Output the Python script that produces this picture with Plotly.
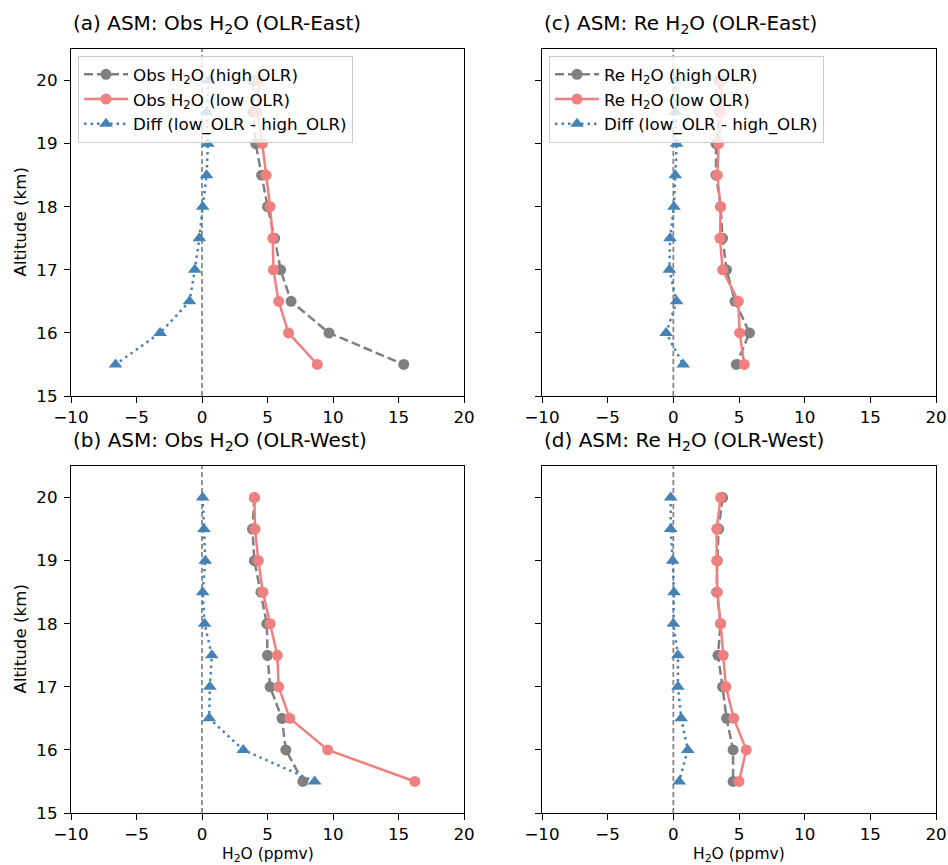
import plotly.graph_objects as go

# Altitude levels (km)
altitude = [20.0, 19.5, 19.0, 18.5, 18.0, 17.5, 17.0, 16.5, 16.0, 15.5]

# (a) Observed H2O, OLR-East (ppmv)
obs_east_high = [3.9, 3.9, 4.1, 4.55, 5.0, 5.55, 6.0, 6.8, 9.7, 15.4]
obs_east_low = [4.4, 4.2, 4.6, 4.9, 5.2, 5.4, 5.45, 5.85, 6.6, 8.8]
obs_east_diff = [0.5, 0.35, 0.45, 0.35, 0.05, -0.2, -0.55, -0.95, -3.2, -6.6]

# (b) Observed H2O, OLR-West (ppmv)
obs_west_high = [4.0, 3.85, 4.0, 4.5, 4.95, 5.0, 5.2, 6.1, 6.4, 7.7]
obs_west_low = [4.0, 4.05, 4.3, 4.65, 5.2, 5.75, 5.85, 6.7, 9.6, 16.25]
obs_west_diff = [0.05, 0.15, 0.25, 0.05, 0.2, 0.75, 0.6, 0.55, 3.15, 8.6]

# (c) Reconstructed H2O, OLR-East (ppmv)
re_east_high = [3.5, 3.5, 3.25, 3.25, 3.6, 3.75, 4.05, 4.7, 5.8, 4.8]
re_east_low = [3.7, 3.65, 3.45, 3.35, 3.6, 3.55, 3.75, 4.95, 5.05, 5.4]
re_east_diff = [0.15, 0.15, 0.25, 0.15, 0.05, -0.25, -0.3, 0.25, -0.55, 0.75]

# (d) Reconstructed H2O, OLR-West (ppmv)
re_west_high = [3.75, 3.45, 3.35, 3.3, 3.6, 3.4, 3.75, 4.05, 4.55, 4.55]
re_west_low = [3.6, 3.3, 3.3, 3.35, 3.6, 3.8, 4.0, 4.6, 5.55, 5.0]
re_west_diff = [-0.2, -0.2, -0.05, 0.05, 0.0, 0.35, 0.35, 0.6, 1.1, 0.45]

x_ticks = [-10, -5, 0, 5, 10, 15, 20]
y_ticks = [15, 16, 17, 18, 19, 20]

FONT = "DejaVu Sans"
GRAY = "#808080"
CORAL = "#F08080"
BLUE = "#4682B4"
W, H = 948, 865
FS = 16.7      # tick / label / legend font size (px)
FS_TITLE = 20  # panel title font size (px)

# panel boxes in pixels: (left, right, top, bottom)
boxes = {
    "a": (71, 464, 49, 396),
    "b": (71, 464, 466, 813),
    "c": (542, 936, 49, 396),
    "d": (542, 936, 466, 813),
}
axis_ids = {"a": ("x", "y"), "b": ("x2", "y2"), "c": ("x3", "y3"), "d": ("x4", "y4")}

panels = [
    ("a", "Obs", "(a) ASM: Obs H<sub>2</sub>O (OLR-East)", obs_east_high, obs_east_low, obs_east_diff, "legend"),
    ("b", "Obs", "(b) ASM: Obs H<sub>2</sub>O (OLR-West)", obs_west_high, obs_west_low, obs_west_diff, None),
    ("c", "Re", "(c) ASM: Re H<sub>2</sub>O (OLR-East)", re_east_high, re_east_low, re_east_diff, "legend2"),
    ("d", "Re", "(d) ASM: Re H<sub>2</sub>O (OLR-West)", re_west_high, re_west_low, re_west_diff, None),
]

fig = go.Figure()
annotations = []
shapes = []
layout_axes = {}

for key, kind, title, high, low, diff, leg in panels:
    xa, ya = axis_ids[key]
    show = leg is not None
    legname = leg if leg else "legend"
    common = dict(xaxis=xa, yaxis=ya, showlegend=show, legend=legname, y=altitude)
    fig.add_trace(go.Scatter(
        x=high, mode="lines+markers", name=f"{kind} H<sub>2</sub>O (high OLR)",
        line=dict(color=GRAY, width=2.5, dash="9px,4px"),
        marker=dict(color=GRAY, size=11, symbol="circle"),
        legendgroup=f"{key}1", **common))
    fig.add_trace(go.Scatter(
        x=low, mode="lines+markers", name=f"{kind} H<sub>2</sub>O (low OLR)",
        line=dict(color=CORAL, width=2.5),
        marker=dict(color=CORAL, size=11, symbol="circle"),
        legendgroup=f"{key}2", **common))
    fig.add_trace(go.Scatter(
        x=diff, mode="lines+markers", name="Diff (low_OLR - high_OLR)",
        line=dict(color=BLUE, width=2.5, dash="2.5px,4px"),
        marker=dict(color=BLUE, size=12, symbol="triangle-up"),
        legendgroup=f"{key}3", **common))

    l, r, t, b = boxes[key]
    xname = "xaxis" if xa == "x" else "xaxis" + xa[1:]
    yname = "yaxis" if ya == "y" else "yaxis" + ya[1:]
    layout_axes[xname] = dict(
        domain=[l / W, r / W], anchor=ya, range=[-10, 20], tickvals=x_ticks,
        ticks="outside", ticklen=6, tickwidth=1.3, tickcolor="black",
        showline=True, linecolor="black", linewidth=1.3, mirror=True,
        showgrid=False, zeroline=False, ticklabelstandoff=0, automargin=False,
        tickfont=dict(family=FONT, size=FS, color="black"),
    )
    layout_axes[yname] = dict(
        domain=[1 - b / H, 1 - t / H], anchor=xa, range=[15, 20.5], tickvals=y_ticks,
        ticks="outside", ticklen=6, tickwidth=1.3, tickcolor="black",
        showline=True, linecolor="black", linewidth=1.3, mirror=True,
        showgrid=False, zeroline=False, showticklabels=key in ("a", "b"),
        ticklabelstandoff=3, automargin=False,
        tickfont=dict(family=FONT, size=FS, color="black"),
    )

    # zero reference line
    shapes.append(dict(type="line", xref=xa, yref=f"{ya} domain", x0=0, x1=0, y0=0, y1=1,
                       line=dict(color=GRAY, width=1.7, dash="5px,3px"), layer="below"))

    # panel title
    annotations.append(dict(text=title, x=l / W, y=1 - (t - 25) / H, xref="paper", yref="paper",
                            xanchor="left", yanchor="middle", showarrow=False,
                            font=dict(family=FONT, size=FS_TITLE, color="black")))
    if key in ("a", "b"):
        annotations.append(dict(text="Altitude (km)", x=19 / W, y=1 - (t + b) / 2 / H,
                                xref="paper", yref="paper", textangle=-90,
                                xanchor="center", yanchor="middle", showarrow=False,
                                font=dict(family=FONT, size=FS, color="black")))
    if key in ("b", "d"):
        annotations.append(dict(text="H<sub>2</sub>O (ppmv)", x=(l + r) / 2 / W, y=1 - 854.5 / H,
                                xref="paper", yref="paper", xanchor="center", yanchor="middle",
                                showarrow=False, borderpad=0,
                                font=dict(family=FONT, size=15.5, color="black")))

legend_style = dict(
    xanchor="left", yanchor="top", bgcolor="rgba(255,255,255,0.8)",
    bordercolor="#cccccc", borderwidth=1, tracegroupgap=0,
    font=dict(family=FONT, size=FS, color="black"), itemwidth=44,
)

fig.update_layout(
    width=W, height=H, margin=dict(l=0, r=0, t=0, b=0, autoexpand=False),
    paper_bgcolor="white", plot_bgcolor="white",
    font=dict(family=FONT, size=FS, color="black"),
    annotations=annotations, shapes=shapes,
    legend=dict(x=78 / W, y=1 - 56 / H, **legend_style),
    legend2=dict(x=549 / W, y=1 - 56 / H, **legend_style),
    **layout_axes,
)

fig.write_html("out.html")
